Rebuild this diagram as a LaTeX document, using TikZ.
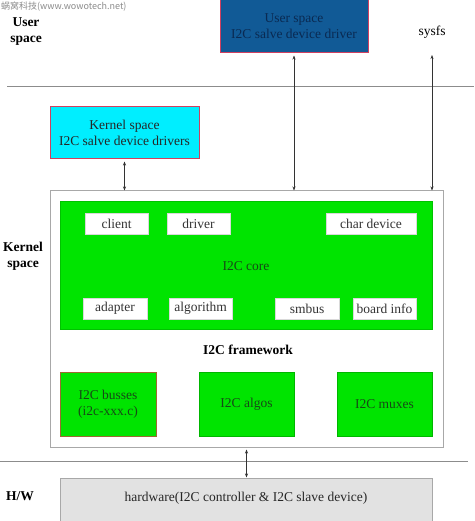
\documentclass[tikz,border=0pt]{standalone}
\usepackage{fontspec}
\setmainfont{Liberation Serif}
\newfontfamily\cjk{Noto Sans CJK SC}
\usetikzlibrary{arrows.meta}
\definecolor{ublue}{HTML}{115A96}
\definecolor{utext}{HTML}{0A2A52}
\definecolor{kcyan}{HTML}{00EEFF}
\definecolor{redb}{HTML}{D04060}
\definecolor{igreen}{HTML}{00E400}
\definecolor{gtext}{HTML}{164A16}
\definecolor{brownb}{HTML}{9C6A30}
\definecolor{grayb}{HTML}{A8A8A8}
\definecolor{hwfill}{HTML}{E2E2E2}
\definecolor{linec}{HTML}{8C8C8C}
\begin{document}
\begin{tikzpicture}[x=1pt,y=-1pt,
  every node/.style={font=\fontsize{13.5}{16}\selectfont, inner sep=0pt, align=center},
  box/.style={draw, rectangle, line width=1pt},
  smallbox/.style={box, fill=white, draw=white!85!black, minimum height=21pt, text=black!80},
  greenbox/.style={box, fill=igreen, draw=igreen!80!black, minimum width=95pt, minimum height=64pt, text=gtext},
  lbl/.style={font=\fontsize{13.5}{16}\selectfont\bfseries},
  biarrow/.style={{Stealth[length=4pt,width=3pt]}-{Stealth[length=4pt,width=3pt]}, line width=0.5pt, black!80}]
\useasboundingbox (0,0) rectangle (474,521);
\fill[white] (0,0) rectangle (474,521);
% watermark
\node[font=\cjk\fontsize{9}{10}\selectfont, text=black!45, anchor=west] (wm) at (1,7) {蜗窝科技(www.wowotech.net)};
% separators
\draw[linec, line width=0.6pt] (7,86) -- (474,86);
\draw[linec, line width=0.6pt] (0,461) -- (468,461);
% side labels
\node[lbl] (lu) at (26,32) {User\\space};
\node[lbl] (lk) at (23,256) {Kernel\\space};
\node[lbl] (lh) at (20,496) {H/W};
% user space box
\node[box, fill=ublue, draw=redb, text=utext, minimum width=148pt, minimum height=53pt] (user) at (294,26.5) {User space\\I2C salve device driver};
\node (sysfs) at (432,32) {sysfs};
\coordinate (sysfsb) at (432,55);
% kernel space driver box
\node[box, fill=kcyan, draw=redb, text=black!85, minimum width=149pt, minimum height=52pt] (kdrv) at (124.5,133) {Kernel space\\I2C salve device drivers};
% framework
\node[box, fill=white, draw=grayb, minimum width=393pt, minimum height=256pt] (fw) at (246.5,319) {};
\node[box, fill=igreen, draw=igreen!85!black, minimum width=372pt, minimum height=127pt] (core) at (246,265.5) {};
\node[text=gtext] (coretxt) at (246,266) {I2C core};
\node[smallbox, minimum width=63pt] (client) at (116.5,223.5) {client};
\node[smallbox, minimum width=63pt] (driver) at (198.5,223.5) {driver};
\node[smallbox, minimum width=90pt] (chardev) at (371,223.5) {char device};
\node[smallbox, minimum width=64pt] (adapter) at (115,308.5) {adapter};
\node[smallbox, minimum width=63pt] (algo) at (200.5,308.5) {algorithm};
\node[smallbox, minimum width=64pt] (smbus) at (307,308.5) {smbus};
\node[smallbox, minimum width=63pt] (board) at (384.5,308.5) {board info};
\node[lbl] (fwtxt) at (248,350) {I2C framework};
\node[greenbox, draw=brownb, minimum width=96pt] (busses) at (108,404) {I2C busses\\(i2c-xxx.c)};
\node[greenbox] (algos) at (246.5,404) {I2C algos};
\node[greenbox] (muxes) at (384.5,404) {I2C muxes};
% hardware
\node[box, fill=hwfill, draw=grayb, minimum width=372pt, minimum height=46pt, text=black!85] (hw) at (246,501) {};
\node[text=black!85] (hwtxt) at (246,498) {hardware(I2C controller \& I2C slave device)};
% arrows
\draw[biarrow] ([yshift=-2pt]kdrv.south) -- (fw.north -| kdrv.south);
\draw[biarrow] ([yshift=-2pt]user.south) -- (fw.north -| user.south);
\draw[biarrow] (sysfsb) -- (fw.north -| sysfsb);
\draw[biarrow] ([yshift=-2pt]fw.south) -- (hw.north -| fw.south);
\end{tikzpicture}
\end{document}
